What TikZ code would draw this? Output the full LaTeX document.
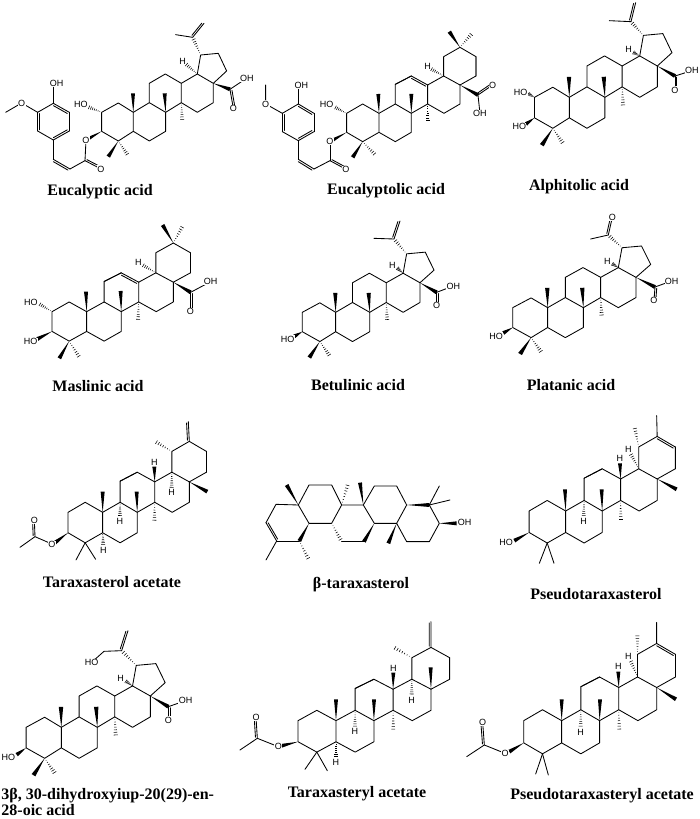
\documentclass[tikz,border=0pt]{standalone}
\usepackage{fontspec}
\setmainfont{Liberation Serif}
\newfontfamily\atomf{Liberation Sans}
\usetikzlibrary{calc}
\newcount\labn
\tikzset{
  crop/.style 2 args={shift={(#1,#2)},x=.3333pt,y=-.3333pt},
  atomlab/.style={fill=white,inner sep=.4pt,font=\atomf\fontsize{9}{9}\selectfont},
  caption/.style={font=\bfseries\fontsize{16}{16}\selectfont,inner sep=0pt,align=left}
}
\newcommand\lab[2]{\global\advance\labn by 1 \node[atomlab] (L\the\labn) at #1 {#2};}
\newcommand\wg[2]{\fill #1 -- ($#2!2pt!90:#1$) -- ($#2!2pt!-90:#1$) -- cycle;}
\newcommand\hs[2]{\foreach \t in {.13,.25,.38,.5,.63,.75,.88,1}{\draw[line width=.55pt,line cap=butt] ($#1!\t!#2!{\t*2.2pt}!90:#2$) -- ($#1!\t!#2!{\t*2.2pt}!-90:#2$);}}
\newcommand\db[3]{\draw #1 -- #2; \draw[shorten <=1.2pt,shorten >=1.2pt] ($#1!#3!90:#2$) -- ($#2!#3!-90:#1$);}
% lupane skeleton (five-membered ring E) with its usual methyl groups
\newcommand\lupane[4]{\begin{scope}[shift={(#1,#2)},xscale=#3,yscale=#4]
  \coordinate (C1) at (-45,-28); \coordinate (C2) at (-95,0); \coordinate (C3) at (-95,57);
  \coordinate (C4) at (-45,86); \coordinate (C5) at (0,57); \coordinate (C10) at (0,0);
  \coordinate (C9) at (48,-29); \coordinate (C8) at (97,0); \coordinate (C7) at (97,57);
  \coordinate (C6) at (48,86); \coordinate (C11) at (48,-87); \coordinate (C12) at (96,-115);
  \coordinate (C13) at (144,-87); \coordinate (C14) at (144,-29); \coordinate (C18) at (192,-115);
  \coordinate (C17) at (240,-87); \coordinate (C16) at (240,-29); \coordinate (C15) at (192,0);
  \coordinate (C19) at (202,-172); \coordinate (C21) at (255,-177); \coordinate (C22) at (280,-124);
  \draw (C10)--(C1)--(C2)--(C3)--(C4)--(C5)--(C10)--(C9)--(C8)--(C7)--(C6)--(C5);
  \draw (C9)--(C11)--(C12)--(C13)--(C14)--(C8);
  \draw (C14)--(C15)--(C16)--(C17)--(C18)--(C13);
  \draw (C18)--(C19)--(C21)--(C22)--(C17);
  \wg{(C10)}{(-1,-57)} \wg{(C8)}{(94,-57)} \hs{(C14)}{(147,28)}
  \wg{(C4)}{(-75,133)} \hs{(C4)}{(-15,131)}
\end{scope}}
% six-membered ring E skeleton: C12-C13 and C20-C21 are left to the molecule
\newcommand\hexa[4]{\begin{scope}[shift={(#1,#2)},xscale=#3,yscale=#4]
  \coordinate (C1) at (-49,-28); \coordinate (C2) at (-97,0); \coordinate (C3) at (-97,57);
  \coordinate (C4) at (-49,85); \coordinate (C5) at (0,57); \coordinate (C10) at (0,0);
  \coordinate (C9) at (49,-28); \coordinate (C8) at (97,0); \coordinate (C7) at (97,57);
  \coordinate (C6) at (49,85); \coordinate (C11) at (49,-87); \coordinate (C12) at (97,-112);
  \coordinate (C13) at (146,-85); \coordinate (C14) at (146,-28); \coordinate (C18) at (194,-112);
  \coordinate (C17) at (243,-85); \coordinate (C16) at (243,-28); \coordinate (C15) at (195,0);
  \coordinate (C19) at (194,-170); \coordinate (C20) at (243,-198); \coordinate (C21) at (291,-170);
  \coordinate (C22) at (291,-112);
  \draw (C10)--(C1)--(C2)--(C3)--(C4)--(C5)--(C10)--(C9)--(C8)--(C7)--(C6)--(C5);
  \draw (C9)--(C11)--(C12); \draw (C13)--(C14)--(C8);
  \draw (C14)--(C15)--(C16)--(C17)--(C18)--(C13);
  \draw (C18)--(C19)--(C20); \draw (C21)--(C22)--(C17);
\end{scope}}
\begin{document}
\begin{tikzpicture}[x=1pt,y=-1pt,line width=.85pt,line cap=round,line join=round]
\useasboundingbox (0,0) rectangle (700,819);
\fill[white] (0,0) rectangle (700,819);

% ---------- Eucalyptic acid
\begin{scope}[crop={0}{0}]
\lupane{400}{337}{1}{1}
\coordinate (A1) at (160,420); \coordinate (A2) at (113,393); \coordinate (A3) at (113,337);
\coordinate (A4) at (160,310); \coordinate (A5) at (208,337); \coordinate (A6) at (208,393);
\draw (A1)--(A2); \draw (A3)--(A4); \draw (A5)--(A6);
\db{(A2)}{(A3)}{-2pt} \db{(A4)}{(A5)}{-2pt} \db{(A6)}{(A1)}{-2pt}
\coordinate (V1) at (160,478); \coordinate (V2) at (210,507); \coordinate (CE) at (255,482);
\draw (A1)--(V1); \db{(V1)}{(V2)}{-2pt} \draw (V2)--(CE);
\coordinate (OE) at (258,420); \coordinate (OC) at (303,507);
\draw (CE)--(OE); \db{(CE)}{(OC)}{1.8pt}
\wg{(C3)}{(OE)}
\coordinate (OA) at (170,250); \coordinate (OM) at (65,309); \coordinate (ME) at (17,337);
\draw (A4)--(160,250); \draw (A3)--(OM)--(ME);
\hs{(C2)}{(262,320)}
\wg{(C17)}{(690,268)}
\coordinate (CA) at (690,268);
\draw (CA)--(741,234); \db{(CA)}{(700,325)}{1.8pt}
\hs{(C18)}{(555,190)}
\coordinate (I1) at (578,112);
\hs{(C19)}{(I1)} \draw (I1)--(527,104); \db{(I1)}{(612,70)}{1.8pt}
\lab{(170,250)}{OH} \lab{(65,309)}{O} \lab{(243,313)}{HO} \lab{(258,420)}{O}
\lab{(303,507)}{O} \lab{(548,185)}{H} \lab{(700,325)}{O} \lab{(741,234)}{OH}
\end{scope}
\node[caption] (cap1) at (100,192) {Eucalyptic acid};

% ---------- Eucalyptolic acid
\begin{scope}[crop={240}{0}]
\hexa{417}{340}{1}{1}
\db{(C12)}{(C13)}{-2pt}
\draw (C20)--(C21)--(C22); \draw (C11)--(C12);
\wg{(C10)}{(415,282)} \wg{(C8)}{(514,282)} \hs{(C14)}{(563,368)}
\wg{(C20)}{(628,95)} \hs{(C20)}{(698,98)}
\wg{(C4)}{(338,472)} \hs{(C4)}{(408,467)}
\hs{(C18)}{(570,205)}
\coordinate (A1) at (175,422); \coordinate (A2) at (127,395); \coordinate (A3) at (127,340);
\coordinate (A4) at (175,312); \coordinate (A5) at (222,340); \coordinate (A6) at (222,395);
\draw (A1)--(A2); \draw (A3)--(A4); \draw (A5)--(A6);
\db{(A2)}{(A3)}{-2pt} \db{(A4)}{(A5)}{-2pt} \db{(A6)}{(A1)}{-2pt}
\coordinate (V1) at (175,478); \coordinate (V2) at (222,507); \coordinate (CE) at (270,482);
\draw (A1)--(V1); \db{(V1)}{(V2)}{-2pt} \draw (V2)--(CE);
\coordinate (OE) at (270,425); \coordinate (OC) at (318,508);
\draw (CE)--(OE); \db{(CE)}{(OC)}{1.8pt}
\wg{(C3)}{(OE)}
\draw (A4)--(175,255); \draw (A3)--(77,312)--(77,255);
\hs{(C2)}{(282,320)}
\coordinate (CA) at (714,285);
\wg{(C17)}{(CA)} \draw (CA)--(720,340); \db{(CA)}{(758,255)}{1.8pt}
\lab{(184,255)}{OH} \lab{(77,312)}{O} \lab{(260,312)}{HO} \lab{(270,425)}{O}
\lab{(318,508)}{O} \lab{(563,200)}{H} \lab{(720,340)}{OH} \lab{(758,255)}{O}
\end{scope}
\node[caption] (cap2) at (386,191) {Eucalyptolic acid};

% ---------- Alphitolic acid
\begin{scope}[crop={480}{0}]
\lupane{268}{292}{1.1}{1.08}
\hs{(C2)}{(143,280)} \wg{(C3)}{(138,372)}
\coordinate (CA) at (585,228);
\wg{(C17)}{(CA)} \draw (CA)--(636,212); \db{(CA)}{(585,270)}{1.8pt}
\hs{(C18)}{(458,156)}
\coordinate (I1) at (453,65);
\hs{(C19)}{(I1)} \draw (I1)--(388,62); \db{(I1)}{(467,8)}{1.8pt}
\lab{(122,277)}{HO} \lab{(118,380)}{HO} \lab{(636,212)}{OH} \lab{(585,270)}{O} \lab{(446,148)}{H}
\end{scope}
\node[caption] (cap3) at (579,187) {Alphitolic acid};

% ---------- Maslinic acid
\begin{scope}[crop={0}{205}]
\hexa{260}{320}{1.07}{1.04}
\db{(C12)}{(C13)}{-2pt}
\draw (C20)--(C21)--(C22); \draw (C11)--(C12);
\wg{(C10)}{(258,260)} \wg{(C8)}{(362,258)} \hs{(C14)}{(414,350)}
\wg{(C20)}{(488,60)} \hs{(C20)}{(550,60)}
\wg{(C4)}{(178,460)} \hs{(C4)}{(240,460)}
\hs{(C18)}{(425,178)}
\hs{(C2)}{(115,295)} \wg{(C3)}{(112,402)}
\coordinate (CA) at (572,262);
\wg{(C17)}{(CA)} \draw (CA)--(632,230); \db{(CA)}{(572,320)}{1.8pt}
\lab{(93,291)}{HO} \lab{(92,410)}{HO} \lab{(632,230)}{OH} \lab{(571,320)}{O} \lab{(415,172)}{H}
\end{scope}
\node[caption] (cap4) at (98,386) {Maslinic acid};

% ---------- Betulinic acid
\begin{scope}[crop={240}{205}]
\lupane{287}{322}{1.054}{1.02}
\wg{(C3)}{(163,394)}
\coordinate (CA) at (590,262);
\wg{(C17)}{(CA)} \draw (CA)--(640,243); \db{(CA)}{(590,302)}{1.8pt}
\hs{(C18)}{(470,188)}
\coordinate (I1) at (462,102);
\hs{(C19)}{(I1)} \draw (I1)--(402,100); \db{(I1)}{(480,48)}{1.8pt}
\lab{(143,402)}{HO} \lab{(640,243)}{OH} \lab{(590,302)}{O} \lab{(457,182)}{H}
\end{scope}
\node[caption] (cap5) at (358,385) {Betulinic acid};

% ---------- Platanic acid
\begin{scope}[crop={480}{205}]
\lupane{203}{308}{1.104}{1.045}
\wg{(C3)}{(70,384)}
\coordinate (CA) at (525,246);
\wg{(C17)}{(CA)} \draw (CA)--(575,228); \db{(CA)}{(522,287)}{1.8pt}
\hs{(C18)}{(395,175)}
\coordinate (I1) at (385,90);
\hs{(C19)}{(I1)} \draw (I1)--(332,102); \db{(I1)}{(397,37)}{1.8pt}
\lab{(48,393)}{HO} \lab{(575,228)}{OH} \lab{(522,287)}{O} \lab{(382,168)}{H} \lab{(397,37)}{O}
\end{scope}
\node[caption] (cap6) at (571,385) {Platanic acid};

% ---------- Taraxasterol acetate
\begin{scope}[crop={0}{410}]
\hexa{308}{307}{1.07}{1.075}
\draw (C11)--(C12)--(C13); \draw (C21)--(C22); \draw (C20)--(C21);
\wg{(C10)}{(308,245)} \wg{(C8)}{(410,245)} \hs{(C14)}{(463,338)}
\hs{(C9)}{(360,322)} \hs{(C5)}{(310,408)} \wg{(C13)}{(463,170)} \hs{(C18)}{(515,238)}
\wg{(C17)}{(622,245)} \hs{(C19)}{(463,93)} \db{(C20)}{(565,35)}{1.8pt}
\draw (C4)--(228,450); \draw (C4)--(287,448);
\wg{(C3)}{(165,398)}
\draw (158,403)--(105,380)--(60,412); \db{(105,380)}{(103,330)}{1.8pt}
\lab{(360,333)}{H} \lab{(310,420)}{H} \lab{(463,157)}{H} \lab{(515,248)}{H}
\lab{(156,403)}{O} \lab{(103,330)}{O}
\end{scope}
\node[caption] (cap7) at (112,582) {Taraxasterol acetate};

% ---------- beta-taraxasterol
\begin{scope}[crop={240}{410}]
\coordinate (B1) at (598,340); \coordinate (B2) at (568,285); \coordinate (B3) at (500,285);
\coordinate (B4) at (470,340); \coordinate (B5) at (500,395); \coordinate (B6) at (568,395);
\coordinate (B7) at (403,340); \coordinate (B8) at (370,285); \coordinate (B9) at (403,228);
\coordinate (B10) at (470,228); \coordinate (B11) at (305,285); \coordinate (B12) at (275,340);
\coordinate (B13) at (207,340); \coordinate (B14) at (175,285); \coordinate (B15) at (207,225);
\coordinate (B16) at (275,225); \coordinate (B17) at (305,395); \coordinate (B18) at (372,395);
\coordinate (B19) at (108,283); \coordinate (B20) at (78,338); \coordinate (B21) at (110,393);
\coordinate (B22) at (178,393);
\draw (B2)--(B1)--(B6)--(B5)--(B4)--(B3)--(B10)--(B9)--(B8)--(B7)--(B4);
\draw (B8)--(B11)--(B16)--(B15)--(B14)--(B13)--(B12)--(B11);
\draw (B14)--(B19)--(B20); \draw (B21)--(B22); \db{(B20)}{(B21)}{1.8pt}
\draw (B17)--(B18);
\wg{(B3)}{(B2)} \wg{(B1)}{(650,340)}
\draw (B2)--(598,228); \draw (B2)--(630,270);
\wg{(B4)}{(445,400)} \wg{(B7)}{(B18)} \hs{(B12)}{(B17)} \wg{(B13)}{(B22)}
\wg{(B14)}{(140,225)} \hs{(B11)}{(325,218)} \wg{(B8)}{(360,218)} \hs{(B22)}{(208,452)}
\draw (B21)--(78,450);
\lab{(674,338)}{OH}
\end{scope}
\node[caption] (cap8) at (361,585) {β-taraxasterol};

% ---------- Pseudotaraxasterol
\begin{scope}[crop={480}{410}]
\hexa{257}{303}{1.13}{1.13}
\draw (C11)--(C12)--(C13); \draw (C21)--(C22); \db{(C20)}{(C21)}{-2pt}
\wg{(C10)}{(255,238)} \wg{(C8)}{(365,238)} \hs{(C14)}{(422,335)}
\hs{(C9)}{(311,323)} \wg{(C13)}{(420,160)} \hs{(C18)}{(450,128)}
\wg{(C17)}{(590,238)} \hs{(C19)}{(463,48)} \draw (C20)--(530,17);
\draw (C4)--(178,460); \draw (C4)--(222,460);
\wg{(C3)}{(103,392)}
\lab{(311,335)}{H} \lab{(420,145)}{H} \lab{(445,118)}{H} \lab{(78,398)}{HO}
\end{scope}
\node[caption] (cap9) at (596,594) {Pseudotaraxasterol};

% ---------- 3beta,30-dihydroxy...
\begin{scope}[crop={0}{610}]
\lupane{184}{352}{1.1125}{1.08}
\wg{(C3)}{(50,434)}
\coordinate (CA) at (505,290);
\wg{(C17)}{(CA)} \draw (CA)--(557,272); \db{(CA)}{(505,330)}{1.8pt}
\hs{(C18)}{(375,212)}
\coordinate (I1) at (365,122);
\hs{(C19)}{(I1)} \draw (I1)--(312,124)--(275,157); \db{(I1)}{(384,62)}{1.8pt}
\lab{(25,442)}{HO} \lab{(557,272)}{OH} \lab{(505,330)}{O} \lab{(362,205)}{H} \lab{(275,157)}{HO}
\end{scope}
\node[caption,anchor=west] (cap10) at (1,801.5) {3β, 30-dihydroxyiup-20(29)-en-\\28-oic acid};

% ---------- Taraxasteryl acetate
\begin{scope}[crop={240}{610}]
\hexa{288}{332}{1.173}{1.11}
\draw (C11)--(C12)--(C13); \draw (C21)--(C22); \draw (C20)--(C21);
\wg{(C10)}{(288,268)} \wg{(C8)}{(402,268)} \hs{(C14)}{(460,365)}
\hs{(C9)}{(345,355)} \hs{(C5)}{(288,445)} \wg{(C13)}{(460,188)} \hs{(C18)}{(515,258)}
\wg{(C17)}{(572,172)} \hs{(C19)}{(458,110)} \db{(C20)}{(573,35)}{1.8pt}
\draw (C4)--(195,478); \draw (C4)--(262,482);
\wg{(C3)}{(122,408)}
\draw (115,410)--(52,385)--(0,420); \db{(52,385)}{(48,322)}{1.8pt}
\lab{(345,365)}{H} \lab{(288,457)}{H} \lab{(460,175)}{H} \lab{(515,270)}{H}
\lab{(115,410)}{O} \lab{(48,322)}{O}
\end{scope}
\node[caption] (cap11) at (357,794) {Taraxasteryl acetate};

% ---------- Pseudotaraxasteryl acetate
\begin{scope}[crop={480}{610}]
\hexa{245}{332}{1.173}{1.17}
\draw (C11)--(C12)--(C13); \draw (C21)--(C22); \db{(C20)}{(C21)}{-2pt}
\wg{(C10)}{(245,268)} \wg{(C8)}{(360,268)} \hs{(C14)}{(418,365)}
\hs{(C9)}{(302,355)} \wg{(C13)}{(415,185)} \hs{(C18)}{(450,148)}
\wg{(C17)}{(588,268)} \hs{(C19)}{(472,70)} \draw (C20)--(530,37);
\draw (C4)--(167,492); \draw (C4)--(205,495);
\wg{(C3)}{(88,425)}
\draw (75,430)--(13,405)--(-40,440); \db{(13,405)}{(8,337)}{1.8pt}
\lab{(302,367)}{H} \lab{(415,170)}{H} \lab{(445,138)}{H} \lab{(75,430)}{O} \lab{(8,337)}{O}
\end{scope}
\node[caption] (cap12) at (602,796) {Pseudotaraxasteryl acetate};
\end{tikzpicture}
\end{document}
